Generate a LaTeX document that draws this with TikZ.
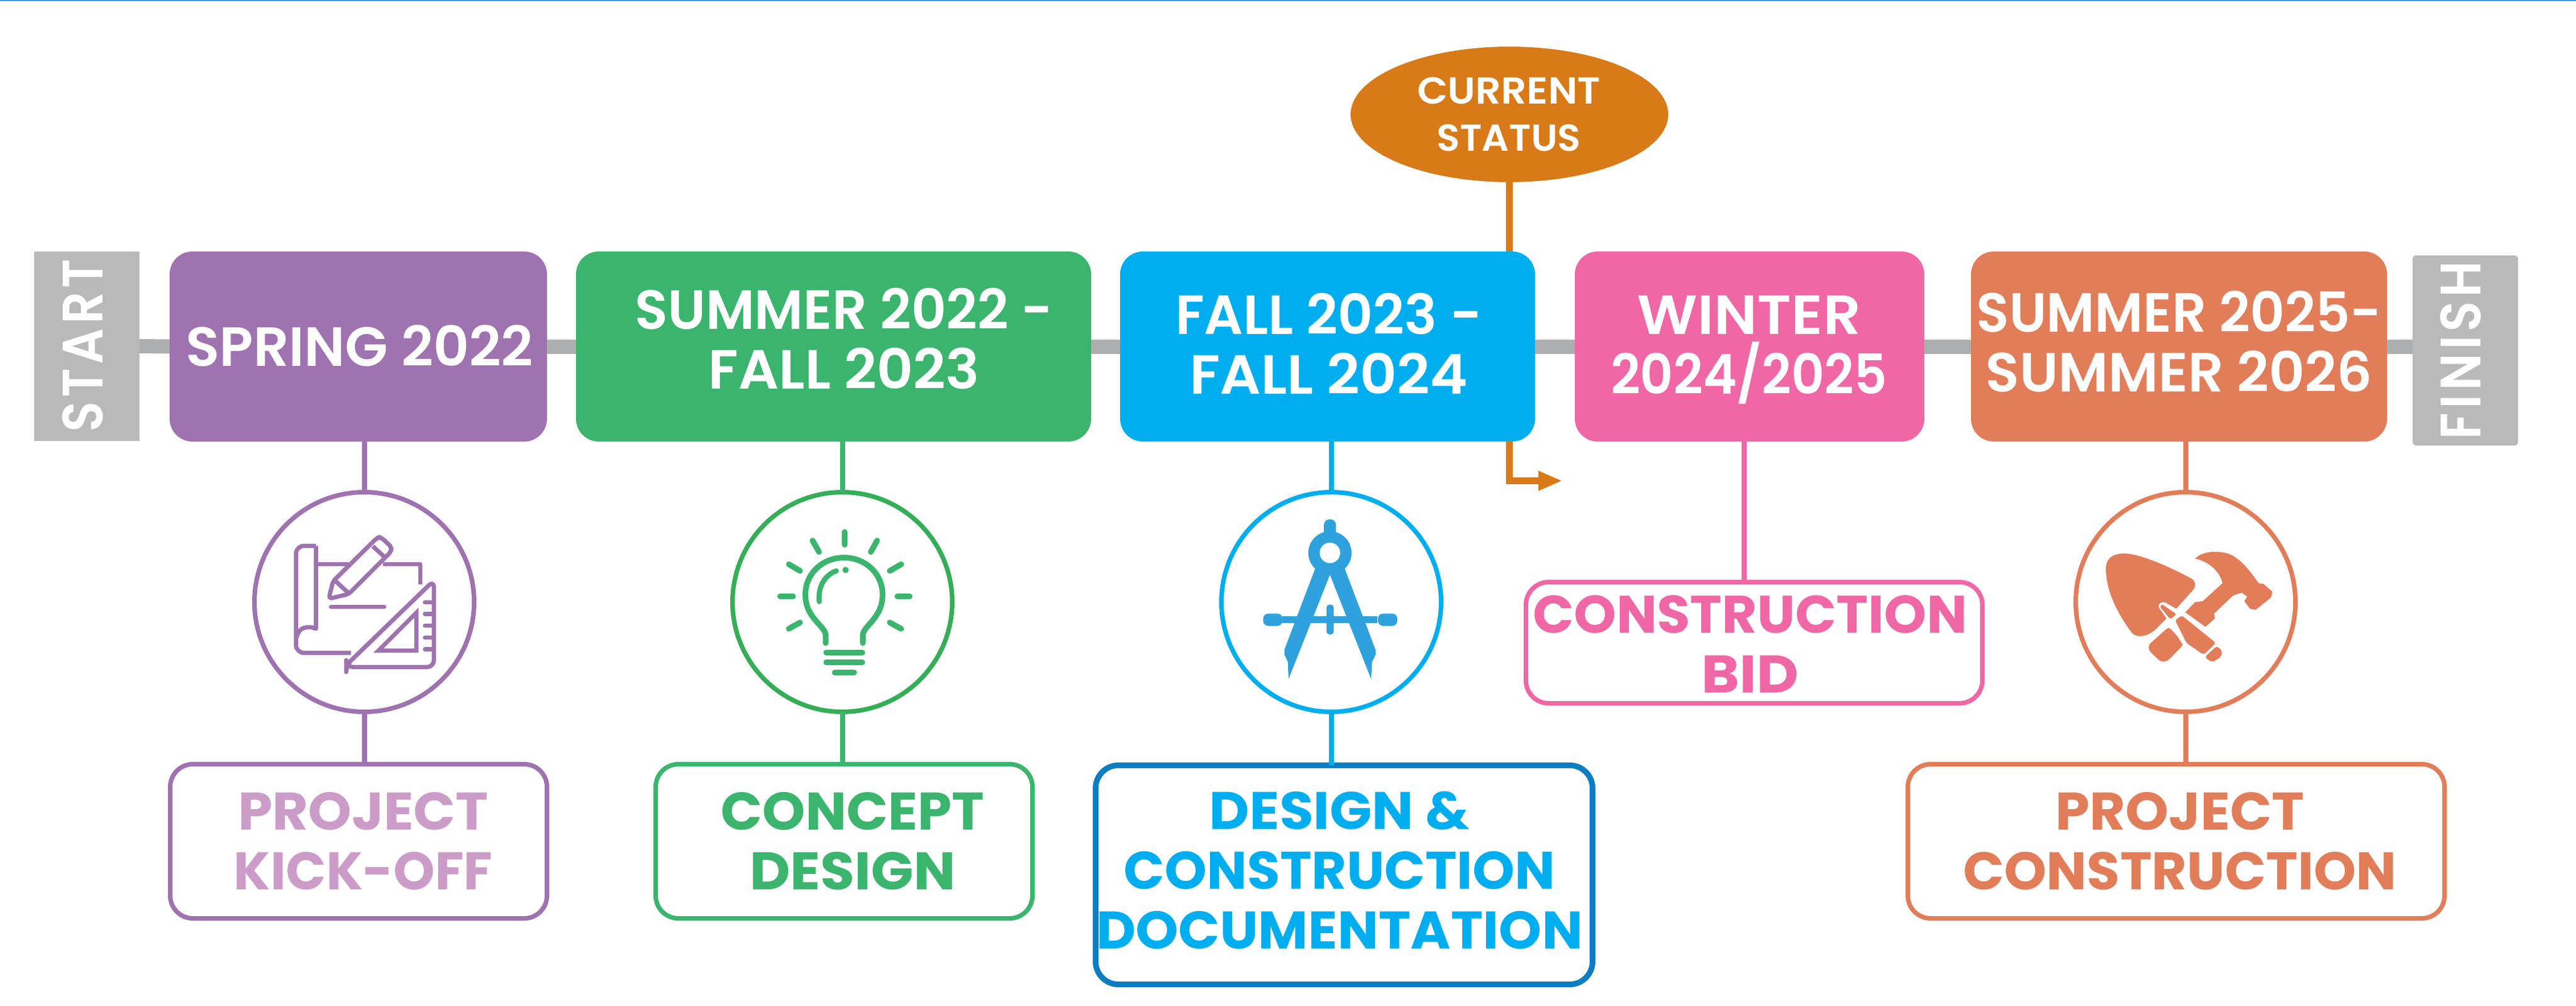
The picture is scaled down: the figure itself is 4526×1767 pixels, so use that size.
\documentclass[tikz,border=0pt]{standalone}
\usepackage{graphicx}
\usepackage{fontspec}
\setmainfont{Poppins SemiBold}
\newfontfamily\popbold{Poppins Bold}
\usetikzlibrary{shapes.geometric,arrows.meta}
\definecolor{cPurple}{HTML}{9F72B0}
\definecolor{cPurpleText}{HTML}{CC9CC9}
\definecolor{cGreen}{HTML}{3BB56E}
\definecolor{cRingGreen}{HTML}{35AE57}
\definecolor{cCyan}{HTML}{00AEEF}
\definecolor{cDeep}{HTML}{0D7DC3}
\definecolor{cIconBlue}{HTML}{2FA2DE}
\definecolor{cPink}{HTML}{F067A6}
\definecolor{cCoral}{HTML}{E27D59}
\definecolor{cStatus}{HTML}{D87A17}
\definecolor{cGrey}{HTML}{B9B9B9}
\definecolor{cLine}{HTML}{ADAEB0}
\definecolor{cTop}{HTML}{3B9BE8}
\newcommand{\fitline}[2]{\smash{\resizebox{#1pt}{\height}{#2}}}
\tikzset{
  yearbox/.style={rectangle,rounded corners=40pt,minimum height=334pt,inner sep=0pt,outer sep=0pt,draw=none},
  labelbox/.style={rectangle,rounded corners=40pt,inner sep=0pt,outer sep=0pt,fill=white,line width=8pt},
  capbox/.style={rectangle,inner sep=0pt,outer sep=0pt,fill=cGrey,draw=none},
  iconring/.style={circle,minimum size=386pt,inner sep=0pt,outer sep=0pt,line width=8pt,fill=white},
  yeartxt/.style={align=center,inner sep=0pt,text=white,font=\fontsize{97}{105}\selectfont},
  labeltxt/.style={align=center,inner sep=0pt,font=\popbold\fontsize{93}{105}\selectfont},
  captxt/.style={inner sep=0pt,text=white,rotate=90,font=\fontsize{100}{105}\selectfont},
  statustxt/.style={align=center,inner sep=0pt,text=white,font=\fontsize{66}{83.5}\selectfont},
  rail/.style={line width=25pt,cLine},
  stem/.style={line width=9pt},
  zoomunits/.style={x=0.33333pt,y=-0.33333pt}
}
\begin{document}
\begin{tikzpicture}[x=1pt,y=-1pt]
\useasboundingbox (0,0) rectangle (4526,1767);
\fill[white] (0,0) rectangle (4526,1767);
\fill[cTop] (0,0) rectangle (4526,2);

% end caps
\node[capbox,minimum width=185pt,minimum height=333pt] (start) at (152.5,608.5) {};
\node[capbox,minimum width=185pt,minimum height=334pt,rounded corners=6pt] (finish) at (4331.5,616) {};
\node[captxt] (starttxt) at (180,607) {\fitline{304}{\addfontfeature{LetterSpace=8}START}};
\node[captxt] (finishtxt) at (4358,615.5) {\fitline{313}{\addfontfeature{LetterSpace=8}FINISH}};

% period boxes
\node[yearbox,fill=cPurple,minimum width=663pt] (spring) at (629.5,609) {};
\node[yearbox,fill=cGreen,minimum width=905pt] (sum22) at (1464.5,609) {};
\node[yearbox,fill=cCyan,minimum width=729pt] (fall) at (2332.5,609) {};
\node[yearbox,fill=cPink,minimum width=614pt] (winter) at (3074,609) {};
\node[yearbox,fill=cCoral,minimum width=731pt] (sum25) at (3828.5,609) {};

% rail
\draw[rail] (start.east) -- (spring.west);
\draw[rail] (spring.east) -- (sum22.west);
\draw[rail] (sum22.east) -- (fall.west);
\draw[rail] (fall.east) -- (winter.west);
\draw[rail] (winter.east) -- (sum25.west);
\draw[rail] (sum25.east) -- (sum25.east -| finish.west);

% period text
\node[yeartxt] (springtxt) at (631.5,643) {\fitline{611}{SPRING 2022}};
\node[yeartxt] (sum22txt) at (1483,630.5) {\fitline{735}{SUMMER 2022 -}\\\fitline{477}{FALL 2023}};
\node[yeartxt] (falltxt) at (2334.5,639.5) {\fitline{539}{FALL 2023 -}\\\fitline{489}{FALL 2024}};
\node[yeartxt] (wintertxt) at (3073,639.5) {\fitline{393}{WINTER}\\\fitline{486}{2024/2025}};
\node[yeartxt] (sum25txt) at (3828.5,635.5) {\fitline{712}{SUMMER 2025-}\\\fitline{680}{SUMMER 2026}};

% status
\node[ellipse,fill=cStatus,minimum width=558pt,minimum height=238pt,inner sep=0pt,outer sep=0pt] (status) at (2652,201) {};
\node[statustxt] (statustext) at (2651,224) {\fitline{322}{CURRENT}\\\fitline{253}{STATUS}};
\coordinate (nowtip) at (2745,845);
\draw[cStatus,line width=12pt] (status.south) -- (status.south |- fall.north);
\draw[cStatus,line width=12pt,-{Triangle[length=42pt,width=32pt]}] (status.south |- fall.south) |- (nowtip);

% icon rings
\node[iconring,draw=cPurple] (ring1) at (640,1058) {};
\node[iconring,draw=cRingGreen] (ring2) at (1480,1058) {};
\node[iconring,draw=cCyan] (ring3) at (2339,1058) {};
\node[iconring,draw=cCoral] (ring4) at (3840,1058) {};

% label boxes
\node[labelbox,draw=cPurple,minimum width=662pt,minimum height=271pt] (lab1) at (630,1478.5) {};
\node[labelbox,draw=cGreen,minimum width=662pt,minimum height=271pt] (lab2) at (1483,1478.5) {};
\node[labelbox,draw=cDeep,line width=10pt,minimum width=873pt,minimum height=385pt] (lab3) at (2361.5,1537.5) {};
\node[labelbox,draw=cPink,minimum width=802pt,minimum height=213pt] (lab4) at (3082,1129.5) {};
\node[labelbox,draw=cCoral,minimum width=943pt,minimum height=271pt] (lab5) at (3823.5,1478.5) {};

\node[labeltxt,text=cPurpleText] (lab1txt) at (638,1510.5) {\fitline{440}{PROJECT}\\\fitline{455}{KICK-OFF}};
\node[labeltxt,text=cGreen] (lab2txt) at (1498,1510.5) {\fitline{463}{CONCEPT}\\\fitline{362}{DESIGN}};
\node[labeltxt,text=cCyan] (lab3txt) at (2353.5,1562.5) {\fitline{458}{DESIGN \&}\\\fitline{758}{CONSTRUCTION}\\\fitline{855}{DOCUMENTATION}};
\node[labeltxt,text=cPink] (lab4txt) at (3075,1165) {\fitline{763}{CONSTRUCTION}\\\fitline{171}{BID}};
\node[labeltxt,text=cCoral] (lab5txt) at (3830,1510.5) {\fitline{438}{PROJECT}\\\fitline{762}{CONSTRUCTION}};

% stems
\draw[stem,cPurple] (ring1.north |- spring.south) -- (ring1.north);
\draw[stem,cPurple] (ring1.south) -- (ring1.south |- lab1.north);
\draw[stem,cGreen] (ring2.north |- sum22.south) -- (ring2.north);
\draw[stem,cGreen] (ring2.south) -- (ring2.south |- lab2.north);
\draw[stem,cCyan] (ring3.north |- fall.south) -- (ring3.north);
\draw[stem,cCyan] (ring3.south) -- (ring3.south |- lab3.north);
\coordinate (bidstem) at (3064,900);
\draw[stem,cPink] (bidstem |- winter.south) -- (bidstem |- lab4.north);
\draw[stem,cCoral] (ring4.north |- sum25.south) -- (ring4.north);
\draw[stem,cCoral] (ring4.south) -- (ring4.south |- lab5.north);

% icon 1: drawing and set square
\begin{scope}[shift={(420,840)},zoomunits,draw=cPurple,line width=7.5pt,line join=round]
  \draw[rounded corners=14pt] (405,358) -- (300,358) -- (300,922) -- (590,922);
  \draw (405,358) -- (405,795) .. controls (360,775) and (310,790) .. (305,840);
  \draw (415,455) -- (575,455);
  \draw (760,455) -- (955,455) -- (955,560);
  \draw[rounded corners=6pt] (473,637) -- (495,545) -- (725,318) -- (745,310) -- (805,365) -- (800,390) -- (578,612) -- cycle;
  \draw (705,360) -- (765,415);
  \draw (510,545) -- (575,605);
  \draw[line cap=round] (485,680) -- (765,680);
  \draw[rounded corners=12pt] (565,987) -- (1027,540) -- (1027,997) -- (565,997) -- cycle;
  \draw[line join=miter] (735,910) -- (935,710) -- (935,910) -- cycle;
  \foreach \ty in {655,717,778,842,903} \draw[line cap=round] (980,\ty) -- (1027,\ty);
\end{scope}

% icon 2: light bulb
\begin{scope}[shift={(1260,840)},zoomunits,draw=cGreen,fill=cGreen,line cap=round,line width=10pt]
  \draw (673,285) -- (673,352);
  \draw (503,330) -- (537,390);
  \draw (843,330) -- (810,390);
  \draw (378,455) -- (437,490);
  \draw (970,455) -- (910,490);
  \draw (332,625) -- (400,625);
  \draw (1015,625) -- (950,625);
  \draw (378,795) -- (437,762);
  \draw (970,795) -- (910,762);
  \draw (572,870) -- (572,830) .. controls (572,780) and (465,740) .. (465,615) .. controls (465,505) and (555,420) .. (668,420) .. controls (782,420) and (872,505) .. (872,615) .. controls (872,740) and (768,780) .. (768,830) -- (768,870);
  \draw[line width=9pt] (538,652) .. controls (530,570) and (570,510) .. (628,490);
  \fill[draw=none] (677,485) circle[radius=5.5pt];
  \draw (575,920) -- (765,920);
  \draw (575,972) -- (765,972);
  \draw (620,1025) -- (722,1025);
\end{scope}

% icon 3: compass
\begin{scope}[shift={(2110,840)},zoomunits,fill=cIconBlue]
  \fill[rounded corners=10pt] (648,330) -- (648,218) -- (712,218) -- (712,330) -- cycle;
  \fill (605,470) -- (440,905) -- (440,930) -- (458,970) -- (462,1060) -- (680,510) -- (897,1060) -- (902,970) -- (922,930) -- (920,905) -- (755,470) -- cycle;
  \fill (680,395) circle[radius=38pt];
  \fill[white] (680,395) circle[radius=18pt];
  \fill (430,730) rectangle (930,765);
  \fill[rounded corners=9pt] (328,715) rectangle (430,780);
  \fill[rounded corners=9pt] (933,715) rectangle (1035,780);
  \fill[rounded corners=5pt] (662,668) rectangle (700,825);
\end{scope}

% icon 4: trowel and hammer
\begin{scope}[shift={(3600,840)},zoomunits,fill=cCoral]
  \fill (770,425) .. controls (810,385) and (880,385) .. (930,395) .. controls (1000,410) and (1060,490) .. (1105,555) -- (1130,558) -- (1178,600) -- (1170,630) -- (1090,695) -- (1060,690) -- (1030,650) -- (1045,625) -- (1015,605) -- (970,620) -- (870,715) -- (875,740) -- (825,785) -- (718,708) -- (770,655) -- (810,650) -- (915,555) .. controls (900,490) and (840,440) .. (770,425) -- cycle;
  \fill[rounded corners=5pt] (632,785) -- (525,880) -- (527,910) -- (590,970) -- (625,965) -- (712,875) -- cycle;
  \fill (300,480) .. controls (300,420) and (340,398) .. (400,398) .. controls (480,400) and (640,470) .. (750,530) .. controls (775,545) and (775,570) .. (760,590) -- (670,690) -- (560,800) .. controls (520,835) and (470,845) .. (440,820) .. controls (370,730) and (300,600) .. (300,480) -- cycle;
  \fill[white,rounded corners=5pt] (600,650) -- (572,672) -- (640,770) -- (705,880) -- (815,945) -- (890,875) -- (700,705) -- cycle;
  \fill[rounded corners=3pt] (595,665) -- (585,680) -- (640,745) -- (672,718) -- cycle;
  \fill[rounded corners=4pt] (665,750) -- (700,725) -- (880,870) -- (815,932) -- (725,870) -- cycle;
  \fill[rounded corners=5pt] (885,885) -- (915,915) -- (905,945) -- (860,972) -- (820,945) -- cycle;
\end{scope}
\end{tikzpicture}
\end{document}
